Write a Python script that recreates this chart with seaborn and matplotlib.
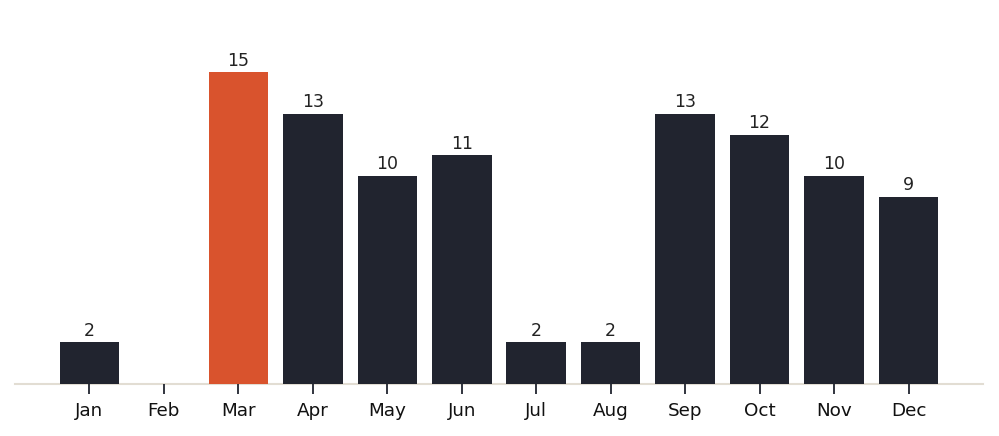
import matplotlib

matplotlib.use('Agg')
import matplotlib.pyplot as plt
import pandas as pd
import seaborn as sns

# data
months = ['Jan', 'Feb', 'Mar', 'Apr', 'May', 'Jun', 'Jul', 'Aug', 'Sep', 'Oct', 'Nov', 'Dec']
counts = [2, 0, 15, 13, 10, 11, 2, 2, 13, 12, 10, 9]
highlight = 'Mar'

DARK = '#21242f'
ORANGE = '#d9532d'
BASE = '#e2ddd3'

sns.set_style('white')
plt.rcParams['font.family'] = ['DejaVu Sans']

df = pd.DataFrame({'month': months, 'count': counts})
palette = {m: (ORANGE if m == highlight else DARK) for m in months}

fig = plt.figure(figsize=(9.99, 4.36), dpi=100)
ax = fig.add_axes([15 / 999, 52 / 436, 968 / 999, 374 / 436])

sns.barplot(data=df, x='month', y='count', hue='month', palette=palette,
            order=months, width=0.8, saturation=1, legend=False,
            linewidth=0, edgecolor='none', ax=ax)

# value labels (skip zeros)
for i, v in enumerate(counts):
    if v > 0:
        ax.annotate(str(v), (i, v), xytext=(0, 2), textcoords='offset points',
                    ha='center', va='bottom', fontsize=12.5, color='#222222')

ax.set_xlim(-1, 12)
ax.set_ylim(0, 18)
ax.set_xlabel('')
ax.set_ylabel('')
ax.set_yticks([])

for side in ['top', 'right', 'left']:
    ax.spines[side].set_visible(False)
ax.spines['bottom'].set_color(BASE)
ax.spines['bottom'].set_linewidth(1.5)
ax.spines['bottom'].set_zorder(0.5)

ax.tick_params(axis='x', bottom=True, length=7, width=1.3, color=DARK, pad=6,
               labelsize=13.2, labelcolor='#111111', direction='out')

fig.savefig('out.png', dpi=100)
